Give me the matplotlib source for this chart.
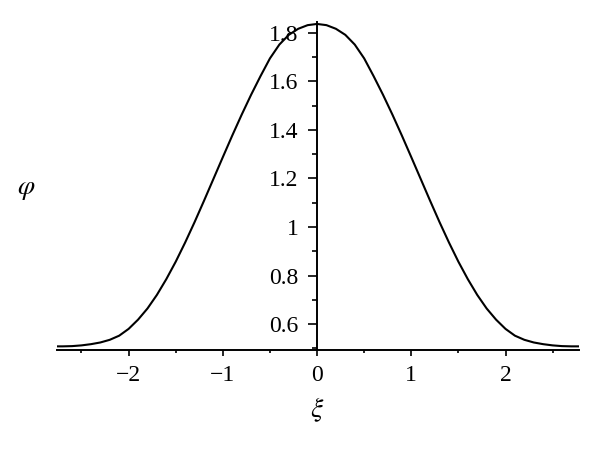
#!/usr/bin/env python3
# -*- coding: utf-8 -*-
"""
Bell-shaped profile phi(xi), Maple-style axes crossing at xi = 0.
"""

import matplotlib.pyplot as plt
from matplotlib.ticker import MultipleLocator, FuncFormatter

# ===================== data =====================
XI = [-2.77, -2.7, -2.6, -2.5, -2.4, -2.3, -2.2, -2.1, -2.0, -1.9, -1.8,
      -1.7, -1.6, -1.5, -1.4, -1.3, -1.2, -1.1, -1.0, -0.9, -0.8, -0.7,
      -0.6, -0.5, -0.4, -0.3, -0.2, -0.1, 0.0, 0.1, 0.2, 0.3, 0.4, 0.5,
      0.6, 0.7, 0.8, 0.9, 1.0, 1.1, 1.2, 1.3, 1.4, 1.5, 1.6, 1.7, 1.8,
      1.9, 2.0, 2.1, 2.2, 2.3, 2.4, 2.5, 2.6, 2.7, 2.77]
PHI = [0.508, 0.508, 0.509, 0.512, 0.517, 0.524, 0.535, 0.552, 0.580,
       0.618, 0.664, 0.720, 0.785, 0.857, 0.936, 1.020, 1.108, 1.198,
       1.288, 1.377, 1.463, 1.545, 1.622, 1.695, 1.752, 1.792, 1.817,
       1.832, 1.837, 1.832, 1.817, 1.792, 1.752, 1.695, 1.622, 1.545,
       1.463, 1.377, 1.288, 1.198, 1.108, 1.020, 0.936, 0.857, 0.785,
       0.720, 0.664, 0.618, 0.580, 0.552, 0.535, 0.524, 0.517, 0.512,
       0.509, 0.508, 0.508]

X_LIM = (-2.76, 2.78)
Y_LIM = (0.493, 1.845)

# ===================== plotting =====================
plt.rcParams.update({
    "font.family": "Liberation Serif",
    "mathtext.fontset": "stix",
})

fig = plt.figure(figsize=(6.0, 4.49), dpi=100)
ax = fig.add_axes([0.095, 0.2205, 0.87, 0.7305])

ax.plot(XI, PHI, color='black', linewidth=1.5)

ax.set_xlim(*X_LIM)
ax.set_ylim(*Y_LIM)

for side in ('top', 'right'):
    ax.spines[side].set_visible(False)
ax.spines['left'].set_position(('data', 0))
ax.spines['left'].set_linewidth(1.4)
ax.spines['bottom'].set_linewidth(1.4)

fmt = FuncFormatter(lambda v, pos: f'{v:g}'.replace('-', '\u2212'))
ax.xaxis.set_major_locator(MultipleLocator(1))
ax.xaxis.set_minor_locator(MultipleLocator(0.5))
ax.yaxis.set_major_locator(MultipleLocator(0.2))
ax.yaxis.set_minor_locator(MultipleLocator(0.1))
ax.xaxis.set_major_formatter(fmt)
ax.yaxis.set_major_formatter(fmt)

ax.tick_params(axis='x', which='major', direction='out', length=4, width=1.2,
               pad=7, labelsize=17)
ax.tick_params(axis='x', which='minor', direction='out', length=2, width=1.2)
ax.tick_params(axis='y', which='major', direction='out', length=6.5, width=1.2,
               pad=7, labelsize=17)
ax.tick_params(axis='y', which='minor', direction='out', length=3.5, width=1.2)

fig.text(26 / 600, 1 - 190 / 449, r'$\varphi$', fontsize=20,
         ha='center', va='center')
fig.text(317 / 600, 1 - 410 / 449, r'$\xi$', fontsize=20,
         ha='center', va='center')

fig.savefig('out.png', dpi=100)
plt.close(fig)
